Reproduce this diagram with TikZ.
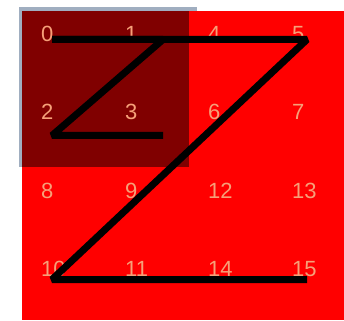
\documentclass[tikz,border=0pt]{standalone}
\usepackage{fontspec}
\setmainfont{Liberation Sans}
\definecolor{slate}{RGB}{160,174,192}
\definecolor{maroonbox}{RGB}{128,0,0}
\definecolor{labelc}{RGB}{246,160,120}
\tikzset{
  lbl/.style={anchor=base west, inner sep=0pt, text=labelc, font=\fontsize{22}{22}\selectfont},
  zline/.style={draw=black, line width=7pt, line join=bevel},
}
\begin{document}
\begin{tikzpicture}[x=1pt,y=-1pt]
\useasboundingbox (0,0) rectangle (344,320);
\fill[slate] (19,7) rectangle (197,167);
\fill[red] (22,11) rectangle (344,320);
\fill[maroonbox] (22,11) rectangle (189,167);
% labels
\node[lbl] (l0) at (41,42) {0};
\node[lbl] (l1) at (125,42) {1};
\node[lbl] (l4) at (208,42) {4};
\node[lbl] (l5) at (292,42) {5};
\node[lbl] (l2) at (41,120) {2};
\node[lbl] (l3) at (125,120) {3};
\node[lbl] (l6) at (208,120) {6};
\node[lbl] (l7) at (292,120) {7};
\node[lbl] (l8) at (41,198) {8};
\node[lbl] (l9) at (125,198) {9};
\node[lbl] (l12) at (208,198) {12};
\node[lbl] (l13) at (292,198) {13};
\node[lbl] (l10) at (41,276) {10};
\node[lbl] (l11) at (125,276) {11};
\node[lbl] (l14) at (208,276) {14};
\node[lbl] (l15) at (292,276) {15};
% path points
\coordinate (p0) at (52,39.5);
\coordinate (p1) at (163,39.5);
\coordinate (p2) at (52,135.5);
\coordinate (p3) at (163,135.5);
\coordinate (q5) at (307,39.5);
\coordinate (q10) at (52,279.5);
\coordinate (q15) at (307,279.5);
\draw[zline] (p0) -- (p1) -- (p2) -- (p3);
\draw[zline] (p0) -- (q5) -- (q10) -- (q15);
\end{tikzpicture}
\end{document}
